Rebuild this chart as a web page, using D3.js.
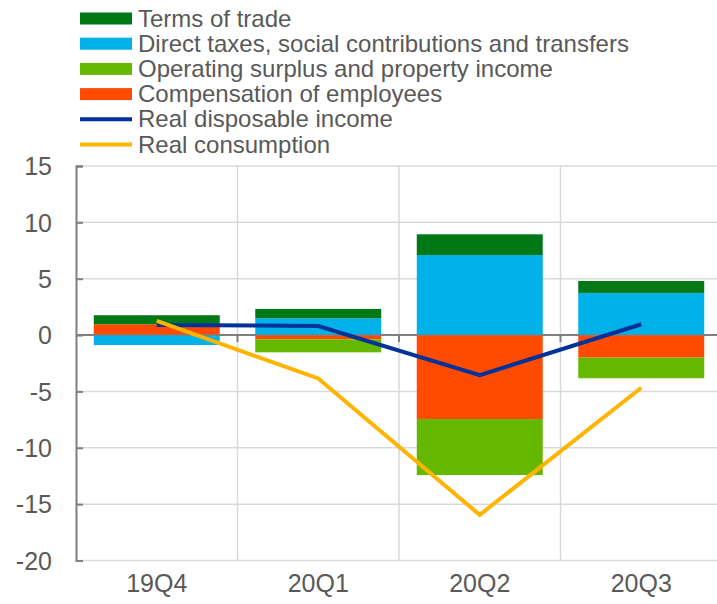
<!DOCTYPE html>
<html>
<head>
<meta charset="utf-8">
<script src="https://cdn.jsdelivr.net/npm/d3@7"></script>
<style>
  html, body { margin: 0; padding: 0; background: #fff; }
  svg { display: block; font-family: "Liberation Sans", Arial, sans-serif; }
</style>
</head>
<body>
<svg id="chart" width="717" height="604"></svg>
<script>
// Quarters on the horizontal axis
const quarters = ["19Q4", "20Q1", "20Q2", "20Q3"];

// Contributions (percentage points), one array per component
const termsOfTrade      = [0.80, 0.83, 1.84, 1.06];
const directTaxes       = [-0.88, 1.49, 7.10, 3.74];
const operatingSurplus  = [0.00, -1.16, -4.97, -1.83];
const compensation      = [0.96, -0.37, -7.45, -2.00];

// Line series
const realDisposableIncome = [0.90, 0.80, -3.55, 0.96];
const realConsumption      = [1.25, -3.85, -15.95, -4.67];

// Vertical axis ticks
const yTicks = [15, 10, 5, 0, -5, -10, -15, -20];

const colors = {
  terms: "#007816",
  direct: "#00B1EA",
  operating: "#65B800",
  comp: "#FF4B00",
  rdi: "#003299",
  cons: "#FFB400"
};

const legendItems = [
  { label: "Terms of trade", color: colors.terms, type: "box" },
  { label: "Direct taxes, social contributions and transfers", color: colors.direct, type: "box" },
  { label: "Operating surplus and property income", color: colors.operating, type: "box" },
  { label: "Compensation of employees", color: colors.comp, type: "box" },
  { label: "Real disposable income", color: colors.rdi, type: "line" },
  { label: "Real consumption", color: colors.cons, type: "line" }
];

const textColor = "#595959";
const fontFamily = "'Liberation Sans', Arial, sans-serif";
const svg = d3.select("#chart");

const plot = { left: 76, right: 722, top: 166, bottom: 560.5 };

const y = d3.scaleLinear().domain([-20, 15]).range([plot.bottom, plot.top]);
const xCat = d3.scaleBand().domain(quarters).range([plot.left, plot.right]).padding(0);
const xBar = d3.scaleBand().domain(quarters).range([plot.left, plot.right])
  .paddingInner(0.22).paddingOuter(0.11);

// Gridlines
const grid = svg.append("g");
grid.selectAll("line.h").data(yTicks).join("line")
  .attr("x1", plot.left).attr("x2", plot.right)
  .attr("y1", d => y(d)).attr("y2", d => y(d))
  .attr("stroke", "#d9d9d9").attr("stroke-width", 1.5);
grid.selectAll("line.v").data(quarters.slice(1)).join("line")
  .attr("x1", d => xCat(d)).attr("x2", d => xCat(d))
  .attr("y1", plot.top).attr("y2", plot.bottom)
  .attr("stroke", "#d9d9d9").attr("stroke-width", 1.5);

// Stacked bars (diverging)
const rows = quarters.map((q, i) => ({
  q,
  comp: compensation[i],
  operating: operatingSurplus[i],
  direct: directTaxes[i],
  terms: termsOfTrade[i]
}));
const keys = ["comp", "operating", "direct", "terms"];
const stacked = d3.stack().keys(keys).offset(d3.stackOffsetDiverging)(rows);

svg.append("g").selectAll("g").data(stacked).join("g")
  .attr("fill", s => colors[s.key])
  .selectAll("rect").data(s => s).join("rect")
  .attr("x", d => xBar(d.data.q))
  .attr("width", xBar.bandwidth())
  .attr("y", d => y(Math.max(d[0], d[1])))
  .attr("height", d => Math.abs(y(d[0]) - y(d[1])));

// Vertical axis
const yAxis = d3.axisLeft(y).tickValues(yTicks).tickSize(-7).tickPadding(24)
  .tickFormat(d => String(d));
const yg = svg.append("g").attr("transform", `translate(${plot.left},0)`).call(yAxis);
yg.select(".domain").attr("stroke", "#7f7f7f").attr("stroke-width", 2);
yg.selectAll(".tick line").attr("stroke", "#7f7f7f").attr("stroke-width", 2);
yg.selectAll(".tick text").attr("fill", textColor)
  .style("font-size", "25px").style("font-family", fontFamily)
  .attr("dy", "0.35em");

// Zero line with category separators
const zg = svg.append("g").attr("transform", `translate(0,${y(0)})`);
zg.append("line").attr("x1", plot.left).attr("x2", plot.right)
  .attr("stroke", "#7f7f7f").attr("stroke-width", 2);
zg.selectAll("line.t").data(quarters.slice(1)).join("line")
  .attr("x1", d => xCat(d)).attr("x2", d => xCat(d))
  .attr("y1", 0).attr("y2", 7)
  .attr("stroke", "#7f7f7f").attr("stroke-width", 2);

// Category labels
svg.append("g").selectAll("text").data(quarters).join("text")
  .attr("x", d => xCat(d) + xCat.bandwidth() / 2)
  .attr("y", 592)
  .attr("text-anchor", "middle")
  .attr("fill", textColor)
  .style("font-size", "25px")
  .style("font-family", fontFamily)
  .text(d => d);

// Lines
const lineGen = d3.line()
  .x((d, i) => xBar(quarters[i]) + xBar.bandwidth() / 2)
  .y(d => y(d));
svg.append("path").datum(realDisposableIncome)
  .attr("d", lineGen).attr("fill", "none")
  .attr("stroke", colors.rdi).attr("stroke-width", 4);
svg.append("path").datum(realConsumption)
  .attr("d", lineGen).attr("fill", "none")
  .attr("stroke", colors.cons).attr("stroke-width", 4);

// Legend
const legend = svg.append("g");
const rowY = i => 18.5 + i * 25.2;
const li = legend.selectAll("g").data(legendItems).join("g")
  .attr("transform", (d, i) => `translate(0,${rowY(i)})`);
li.filter(d => d.type === "box").append("rect")
  .attr("x", 80).attr("y", -6).attr("width", 52).attr("height", 12)
  .attr("fill", d => d.color);
li.filter(d => d.type === "line").append("line")
  .attr("x1", 80).attr("x2", 132).attr("y1", 0).attr("y2", 0)
  .attr("stroke", d => d.color).attr("stroke-width", 4);
li.append("text")
  .attr("x", 138).attr("y", 8)
  .attr("fill", textColor)
  .style("font-size", "24px")
  .style("font-family", fontFamily)
  .text(d => d.label);
</script>
</body>
</html>
